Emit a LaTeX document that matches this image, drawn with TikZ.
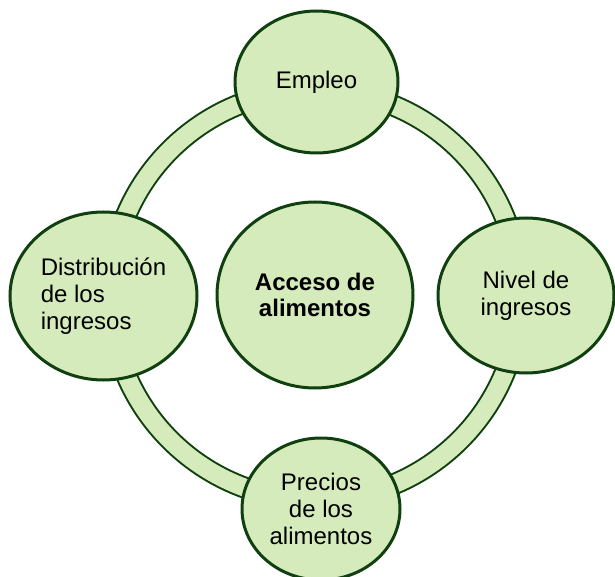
\documentclass[tikz,border=0pt]{standalone}
\usepackage{fontspec}
\setmainfont{Liberation Sans}
\usetikzlibrary{shapes.geometric}
\definecolor{leafgreen}{RGB}{213,235,188}
\definecolor{darkleaf}{RGB}{16,64,16}

\begin{document}
\begin{tikzpicture}[x=0.75pt,y=0.75pt,
  bubble/.style={ellipse,draw=darkleaf,fill=leafgreen,line width=2.25pt,inner sep=0pt,align=center,font=\fontsize{18}{20}\selectfont}]
\useasboundingbox (0,0) rectangle (615,576);
\coordinate (C) at (315,281);
\draw [draw=darkleaf,line width=1.5pt,double=leafgreen,double distance=13.5pt] (C) circle [radius=205];

\node [bubble,minimum width=147pt,minimum height=139.5pt] (acceso) at (C) {\bfseries Acceso de\\\bfseries alimentos};
\node [bubble,minimum width=122.25pt,minimum height=106.5pt] (empleo) at (316.5,494) {Empleo};
\node [bubble,minimum width=132pt,minimum height=116.25pt] (nivel) at (526,280.5) {Nivel de\\ingresos};
\node [bubble,minimum width=118.5pt,minimum height=106.5pt] (precios) at (321,67) {Precios\\de los\\alimentos};
\node [bubble,align=left,minimum width=140.25pt,minimum height=126pt] (distrib) at (103.5,280) {Distribución\\de los\\ingresos};

\end{tikzpicture}
\end{document}
